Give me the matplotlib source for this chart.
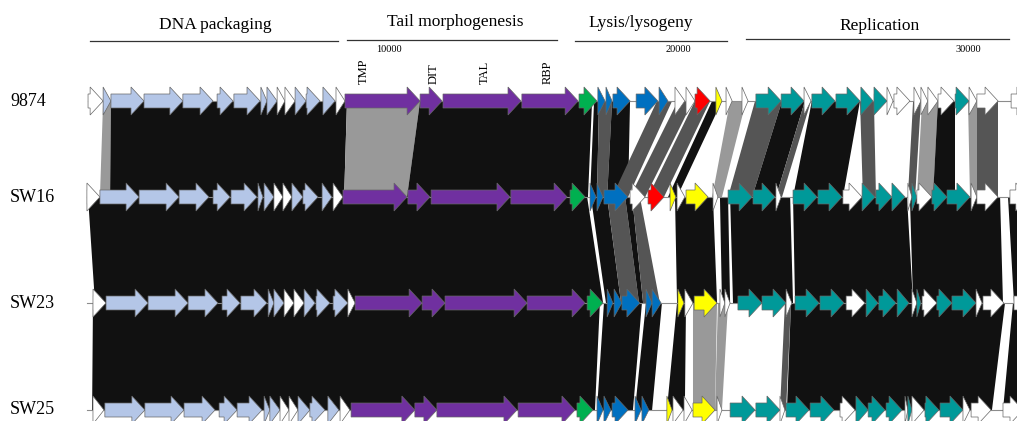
import matplotlib
matplotlib.use("Agg")
import matplotlib.pyplot as plt
from matplotlib.patches import Polygon

# genome names and their track centre (pixel rows, y axis runs downwards)
genome_names = ["9874", "SW16", "SW23", "SW25"]
track_y = [101, 197, 303, 410]

# genes: (start kb, end kb, kind)
# kinds: w=hypothetical, p=DNA packaging, t=tail, g=green, b=lysis blue,
#        r=red, y=yellow, c=replication
genes_9874 = [
    (-0.24, 0.28, 'w'), (0.28, 0.55, 'p'), (0.55, 1.69, 'p'), (1.69, 3.03, 'p'),
    (3.03, 4.07, 'p'), (4.21, 4.76, 'p'), (4.79, 5.69, 'p'), (5.72, 5.93, 'p'),
    (5.93, 6.28, 'p'), (6.28, 6.55, 'w'), (6.55, 6.90, 'w'), (6.90, 7.28, 'p'),
    (7.28, 7.76, 'p'), (7.86, 8.28, 'p'), (8.31, 8.62, 'w'), (8.62, 11.21, 't'),
    (11.21, 11.97, 't'), (12.00, 14.69, 't'), (14.72, 16.66, 't'), (16.69, 17.31, 'g'),
    (17.34, 17.59, 'b'), (17.62, 17.83, 'b'), (17.86, 18.45, 'b'), (18.66, 19.41, 'b'),
    (19.45, 19.76, 'b'), (20.00, 20.34, 'w'), (20.38, 20.69, 'w'), (20.69, 21.21, 'r'),
    (21.41, 21.62, 'y'), (21.76, 21.97, 'w'), (22.31, 22.52, 'w'), (22.79, 23.66, 'c'),
    (23.66, 24.45, 'c'), (24.45, 24.69, 'w'), (24.72, 25.52, 'c'), (25.55, 26.38, 'c'),
    (26.41, 26.83, 'c'), (26.86, 27.31, 'c'), (27.31, 27.52, 'w'), (27.55, 28.10, 'w'),
    (28.24, 28.48, 'w'), (28.48, 28.72, 'w'), (28.72, 29.07, 'w'), (29.07, 29.62, 'w'),
    (29.66, 30.14, 'c'), (30.14, 30.41, 'w'), (30.41, 31.14, 'w'), (31.59, 32.24, 'w'),
]
genes_sw16 = [
    (-0.28, 0.17, 'w'), (0.17, 1.52, 'p'), (1.52, 2.90, 'p'), (2.90, 3.93, 'p'),
    (4.07, 4.66, 'p'), (4.69, 5.59, 'p'), (5.62, 5.79, 'p'), (5.83, 6.17, 'p'),
    (6.17, 6.48, 'w'), (6.48, 6.79, 'w'), (6.79, 7.17, 'p'), (7.17, 7.69, 'p'),
    (7.83, 8.17, 'p'), (8.21, 8.55, 'w'), (8.55, 10.76, 't'), (10.79, 11.55, 't'),
    (11.59, 14.31, 't'), (14.34, 16.28, 't'), (16.38, 16.90, 'g'), (17.07, 17.28, 'b'),
    (17.31, 17.52, 'b'), (17.55, 18.38, 'b'), (18.45, 18.97, 'w'), (19.07, 19.62, 'r'),
    (19.83, 20.03, 'y'), (20.07, 20.34, 'w'), (20.38, 21.14, 'y'), (21.31, 21.48, 'w'),
    (21.83, 22.66, 'c'), (22.69, 23.45, 'c'), (23.48, 23.66, 'w'), (24.07, 24.90, 'c'),
    (24.93, 25.76, 'c'), (25.79, 26.45, 'w'), (26.45, 26.90, 'c'), (26.93, 27.48, 'c'),
    (27.48, 27.93, 'c'), (28.03, 28.17, 'w'), (28.17, 28.34, 'c'), (28.34, 28.86, 'w'),
    (28.86, 29.38, 'c'), (29.38, 30.17, 'c'), (30.21, 30.41, 'w'), (30.41, 31.14, 'w'),
    (31.55, 32.20, 'w'),
]
genes_sw23 = [
    (-0.07, 0.38, 'w'), (0.38, 1.83, 'p'), (1.83, 3.21, 'p'), (3.21, 4.24, 'p'),
    (4.38, 5.00, 'p'), (5.03, 5.93, 'p'), (5.97, 6.17, 'p'), (6.17, 6.52, 'p'),
    (6.52, 6.86, 'w'), (6.86, 7.21, 'w'), (7.21, 7.59, 'p'), (7.62, 8.10, 'p'),
    (8.21, 8.72, 'p'), (8.72, 8.97, 'w'), (8.97, 11.28, 't'), (11.28, 12.07, 't'),
    (12.07, 14.90, 't'), (14.90, 16.90, 't'), (16.97, 17.52, 'g'), (17.66, 17.86, 'b'),
    (17.90, 18.17, 'b'), (18.17, 18.79, 'b'), (19.00, 19.21, 'b'), (19.21, 19.52, 'b'),
    (20.10, 20.31, 'y'), (20.34, 20.62, 'w'), (20.66, 21.45, 'y'), (21.55, 21.72, 'w'),
    (21.72, 21.90, 'w'), (22.17, 23.00, 'c'), (23.00, 23.83, 'c'), (23.83, 24.03, 'w'),
    (24.14, 24.97, 'c'), (25.00, 25.83, 'c'), (25.90, 26.55, 'w'), (26.59, 27.00, 'c'),
    (27.03, 27.62, 'c'), (27.66, 28.07, 'c'), (28.17, 28.34, 'w'), (28.34, 28.48, 'c'),
    (28.52, 29.03, 'w'), (29.03, 29.55, 'c'), (29.55, 30.38, 'c'), (30.38, 30.59, 'w'),
    (30.62, 31.34, 'w'), (31.69, 32.30, 'w'),
]
genes_sw25 = [
    (-0.07, 0.31, 'w'), (0.34, 1.72, 'p'), (1.72, 3.07, 'p'), (3.07, 4.14, 'p'),
    (4.28, 4.90, 'p'), (4.90, 5.76, 'p'), (5.83, 6.03, 'p'), (6.03, 6.38, 'p'),
    (6.38, 6.69, 'w'), (6.69, 7.00, 'w'), (7.00, 7.41, 'p'), (7.41, 7.93, 'p'),
    (8.03, 8.41, 'p'), (8.45, 8.79, 'w'), (8.83, 11.03, 't'), (11.03, 11.79, 't'),
    (11.79, 14.55, 't'), (14.59, 16.55, 't'), (16.62, 17.17, 'g'), (17.31, 17.52, 'b'),
    (17.55, 17.79, 'b'), (17.83, 18.38, 'b'), (18.62, 18.83, 'b'), (18.86, 19.10, 'b'),
    (19.72, 19.90, 'y'), (19.93, 20.28, 'w'), (20.31, 20.59, 'w'), (20.62, 21.38, 'y'),
    (21.45, 21.62, 'w'), (21.90, 22.76, 'c'), (22.79, 23.62, 'c'), (23.62, 23.79, 'w'),
    (23.83, 24.62, 'c'), (24.66, 25.48, 'c'), (25.69, 26.21, 'w'), (26.24, 26.66, 'c'),
    (26.66, 27.24, 'c'), (27.28, 27.83, 'c'), (27.93, 28.03, 'w'), (28.03, 28.17, 'c'),
    (28.17, 28.59, 'w'), (28.62, 29.10, 'c'), (29.14, 29.93, 'c'), (29.93, 30.17, 'w'),
    (30.21, 30.90, 'w'), (31.31, 32.00, 'w'),
]
genomes = [genes_9874, genes_sw16, genes_sw23, genes_sw25]

# blast hits between neighbouring genomes: (top start, top end, bottom start, bottom end, identity class)
# k = high identity (black), d = medium (dark grey), l = low (light grey)
links_9874_sw16 = [
    (0.28, 0.55, 0.17, 0.52, 'l'), (0.55, 8.69, 0.52, 8.59, 'k'),
    (8.69, 11.21, 8.59, 10.76, 'l'), (11.21, 17.14, 10.76, 17.00, 'k'),
    (17.21, 17.38, 17.07, 17.31, 'k'), (17.38, 17.83, 17.31, 17.66, 'd'),
    (17.83, 18.45, 17.66, 18.38, 'k'), (19.38, 19.90, 17.83, 18.38, 'd'),
    (20.10, 20.62, 18.45, 18.97, 'd'), (20.69, 21.21, 19.07, 19.62, 'd'),
    (21.28, 21.62, 19.76, 20.07, 'k'), (21.90, 22.45, 21.28, 21.62, 'l'),
    (22.76, 23.69, 21.83, 22.66, 'd'), (23.69, 24.48, 22.66, 23.48, 'k'),
    (24.48, 24.69, 23.48, 23.69, 'd'), (24.72, 26.38, 24.07, 25.79, 'k'),
    (26.38, 26.86, 26.48, 26.93, 'd'), (28.21, 28.48, 28.03, 28.28, 'd'),
    (28.52, 29.07, 28.34, 28.90, 'l'), (29.07, 29.66, 28.90, 29.66, 'k'),
    (30.10, 30.41, 30.17, 30.41, 'l'), (30.41, 31.14, 30.41, 31.14, 'd'),
]
links_sw16_sw23 = [
    (-0.24, 16.97, 0.00, 17.52, 'k'), (17.10, 17.66, 17.62, 18.14, 'k'),
    (17.66, 18.28, 18.14, 18.76, 'd'), (18.28, 18.52, 18.76, 18.90, 'k'),
    (18.52, 18.79, 18.90, 19.48, 'd'), (20.00, 21.31, 20.07, 21.45, 'k'),
    (21.55, 21.83, 21.62, 21.90, 'k'), (21.90, 23.97, 22.00, 24.07, 'k'),
    (24.07, 28.00, 24.14, 28.21, 'k'), (28.10, 31.21, 28.21, 31.31, 'k'),
    (31.48, 32.60, 31.69, 32.60, 'k'),
]
links_sw23_sw25 = [
    (-0.07, 17.41, -0.10, 17.24, 'k'), (17.55, 18.86, 17.31, 18.55, 'k'),
    (19.00, 19.55, 18.62, 19.21, 'k'), (20.07, 20.38, 19.72, 20.34, 'k'),
    (20.62, 21.45, 20.62, 21.38, 'l'), (21.48, 21.83, 21.38, 21.62, 'l'),
    (23.79, 24.00, 23.62, 23.83, 'd'), (24.00, 31.38, 23.86, 30.93, 'k'),
    (31.66, 32.60, 31.31, 32.60, 'k'),
]
all_links = [links_9874_sw16, links_sw16_sw23, links_sw23_sw25]

# functional modules above the map
module_names = ["DNA packaging", "Tail morphogenesis", "Lysis/lysogeny", "Replication"]
module_start = [-0.17, 8.69, 16.55, 22.45]
module_end = [8.38, 15.93, 21.79, 31.52]
module_label_x = [4.14, 12.41, 18.83, 27.07]

ruler_ticks = [10000, 20000, 30000]

tail_labels = ["TMP", "DIT", "TAL", "RBP"]
tail_label_x = [9.28, 11.69, 13.45, 15.62]

gene_colors = {'w': '#ffffff', 'p': '#b4c6e7', 't': '#7030a0', 'g': '#00b050',
               'b': '#0070c0', 'r': '#ff0000', 'y': '#ffff00', 'c': '#009999'}
link_colors = {'k': '#111111', 'd': '#555555', 'l': '#999999'}

# layout (pixels -> kb)
W, H = 1017, 421
X0 = 95.0       # pixel of position 0
PX_KB = 29.0    # pixels per kb
HEAD = 13 / PX_KB
BODY = 7
HALF = 14

plt.rcParams['font.family'] = ['Liberation Serif', 'DejaVu Serif']

fig = plt.figure(figsize=(W / 100, H / 100), dpi=100)
ax = fig.add_axes([0, 0, 1, 1])
ax.set_xlim(-X0 / PX_KB, (W - X0) / PX_KB)
ax.set_ylim(H, 0)
ax.axis('off')


def draw_gene(s, e, yc, color):
    hl = min(HEAD, e - s)
    pts = [(s, yc - BODY), (e - hl, yc - BODY), (e - hl, yc - HALF), (e, yc),
           (e - hl, yc + HALF), (e - hl, yc + BODY), (s, yc + BODY)]
    ax.add_patch(Polygon(pts, closed=True, facecolor=color, edgecolor='#666666',
                         linewidth=0.5, zorder=3))


# homology links
for i, links in enumerate(all_links):
    y1, y2 = track_y[i], track_y[i + 1]
    for ts, te, bs, be, cls in links:
        ax.add_patch(Polygon([(ts, y1), (te, y1), (be, y2), (bs, y2)], closed=True,
                             facecolor=link_colors[cls], edgecolor='none', zorder=1))

# genomes
for name, genes, yc in zip(genome_names, genomes, track_y):
    start = min(g[0] for g in genes)
    if name in ("SW23", "SW25"):
        start = -0.28
    ax.plot([start, 33], [yc, yc], color='#8c8c8c', lw=0.8, zorder=2)
    for s, e, k in genes:
        draw_gene(s, e, yc, gene_colors[k])
    ax.text(10 / PX_KB - X0 / PX_KB, yc, name, fontsize=13, ha='left', va='center')

# module headers
line_y = [40.7, 40.0, 41.0, 38.5]
label_y = [25, 22, 23, 26]
for nm, s, e, lx, ly, ty in zip(module_names, module_start, module_end, module_label_x, line_y, label_y):
    ax.plot([s, e], [ly, ly], color='#333333', lw=0.9)
    ax.text(lx, ty, nm, fontsize=12.5, ha='center', va='center')

for t in ruler_ticks:
    ax.text(t / 1000 + 0.12, 50, str(t), fontsize=7.5, ha='center', va='center')

for lab, lx in zip(tail_labels, tail_label_x):
    ax.text(lx, 84, lab, fontsize=9, rotation=90, ha='center', va='bottom')

fig.savefig("out.png", dpi=100)
